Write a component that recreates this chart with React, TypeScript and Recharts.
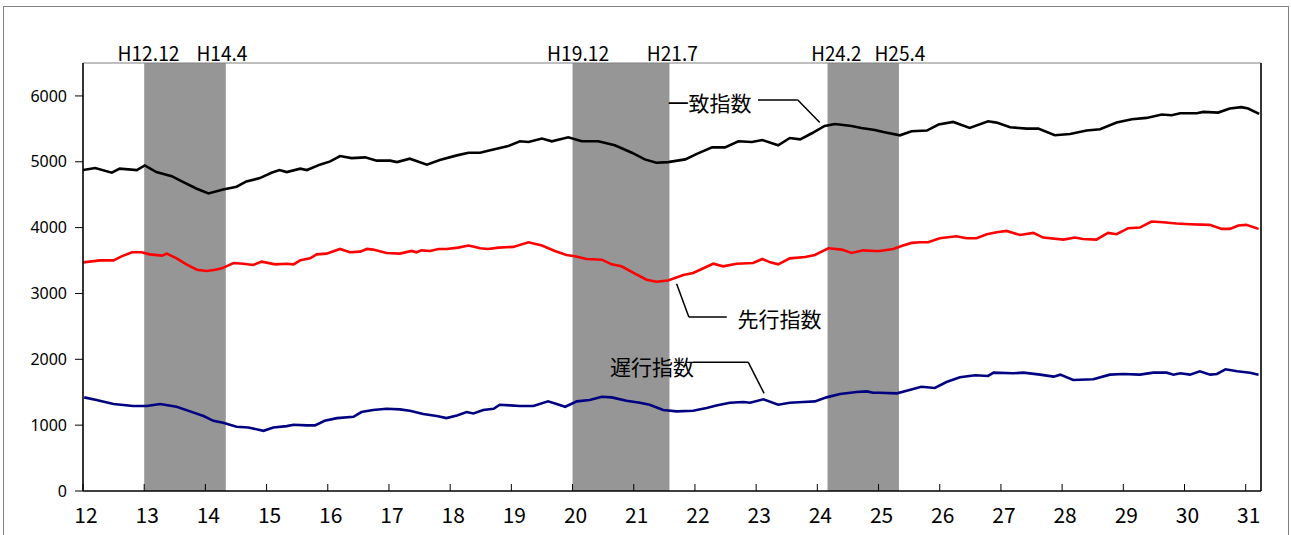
import React from 'react';
import { LineChart, Line, XAxis, YAxis, ReferenceArea, ReferenceLine, ReferenceDot } from 'recharts';

// ---- Data (x = Heisei year + month/12) ----
const coincidentX = [12.0, 12.2, 12.47, 12.6, 12.88, 13.01, 13.2, 13.45, 13.64, 13.86, 14.05, 14.29, 14.51, 14.67, 14.89, 15.08, 15.21, 15.33, 15.55, 15.66, 15.87, 16.04, 16.2, 16.39, 16.61, 16.8, 17.02, 17.13, 17.34, 17.62, 17.83, 18.11, 18.3, 18.49, 18.62, 18.95, 19.14, 19.28, 19.5, 19.66, 19.93, 20.15, 20.42, 20.69, 20.97, 21.18, 21.37, 21.56, 21.84, 22.05, 22.28, 22.49, 22.71, 22.93, 23.1, 23.36, 23.55, 23.72, 23.91, 24.12, 24.29, 24.56, 24.72, 24.94, 25.08, 25.35, 25.54, 25.79, 25.98, 26.22, 26.49, 26.79, 26.93, 27.15, 27.42, 27.61, 27.88, 28.13, 28.4, 28.62, 28.89, 29.14, 29.38, 29.63, 29.79, 29.93, 30.2, 30.31, 30.55, 30.74, 30.93, 31.04, 31.22];
const coincidentV = [4874, 4904, 4834, 4895, 4874, 4945, 4843, 4782, 4691, 4590, 4519, 4580, 4621, 4701, 4752, 4834, 4874, 4843, 4895, 4874, 4956, 5006, 5087, 5056, 5067, 5017, 5017, 4995, 5047, 4956, 5026, 5097, 5138, 5138, 5169, 5239, 5311, 5300, 5352, 5311, 5372, 5311, 5311, 5250, 5138, 5036, 4986, 4995, 5036, 5128, 5219, 5219, 5311, 5300, 5331, 5250, 5361, 5341, 5433, 5544, 5574, 5544, 5513, 5483, 5452, 5402, 5463, 5474, 5565, 5605, 5513, 5615, 5595, 5524, 5504, 5504, 5402, 5422, 5474, 5493, 5595, 5646, 5666, 5717, 5707, 5737, 5737, 5757, 5747, 5808, 5829, 5808, 5727];

const leadingX = [12.0, 12.28, 12.5, 12.63, 12.8, 12.96, 13.09, 13.29, 13.37, 13.53, 13.69, 13.86, 14.02, 14.16, 14.27, 14.46, 14.62, 14.78, 14.92, 15.14, 15.33, 15.44, 15.55, 15.71, 15.82, 15.98, 16.2, 16.36, 16.53, 16.64, 16.74, 16.96, 17.18, 17.37, 17.45, 17.53, 17.67, 17.81, 17.94, 18.13, 18.3, 18.41, 18.49, 18.62, 18.79, 19.03, 19.28, 19.5, 19.71, 19.9, 20.04, 20.23, 20.48, 20.64, 20.8, 21.02, 21.21, 21.37, 21.56, 21.81, 21.97, 22.3, 22.46, 22.68, 22.95, 23.1, 23.23, 23.36, 23.55, 23.8, 23.96, 24.18, 24.4, 24.56, 24.75, 24.94, 25.02, 25.24, 25.4, 25.54, 25.68, 25.81, 26.0, 26.27, 26.44, 26.6, 26.77, 26.93, 27.09, 27.31, 27.53, 27.69, 28.02, 28.21, 28.34, 28.56, 28.75, 28.89, 29.08, 29.27, 29.46, 29.65, 29.87, 30.09, 30.41, 30.61, 30.74, 30.88, 31.01, 31.21];
const leadingV = [3472, 3503, 3503, 3564, 3625, 3625, 3594, 3574, 3605, 3533, 3442, 3361, 3341, 3361, 3381, 3463, 3452, 3432, 3483, 3442, 3452, 3442, 3503, 3533, 3594, 3605, 3676, 3625, 3635, 3676, 3666, 3615, 3605, 3646, 3625, 3655, 3646, 3676, 3676, 3696, 3727, 3707, 3686, 3676, 3696, 3707, 3777, 3727, 3646, 3585, 3564, 3524, 3513, 3442, 3412, 3300, 3209, 3178, 3198, 3280, 3311, 3452, 3412, 3452, 3463, 3524, 3472, 3442, 3533, 3554, 3585, 3686, 3666, 3615, 3655, 3646, 3646, 3676, 3727, 3768, 3777, 3777, 3838, 3869, 3838, 3838, 3899, 3930, 3950, 3889, 3920, 3849, 3818, 3849, 3828, 3818, 3920, 3899, 3991, 4001, 4093, 4082, 4062, 4052, 4042, 3981, 3981, 4032, 4042, 3981];

const laggingX = [12.02, 12.22, 12.5, 12.82, 13.04, 13.26, 13.53, 13.75, 13.97, 14.13, 14.29, 14.51, 14.7, 14.95, 15.11, 15.33, 15.44, 15.66, 15.79, 15.95, 16.15, 16.42, 16.55, 16.74, 16.96, 17.18, 17.34, 17.56, 17.78, 17.94, 18.11, 18.27, 18.38, 18.54, 18.71, 18.81, 18.98, 19.14, 19.36, 19.6, 19.74, 19.88, 20.07, 20.28, 20.48, 20.64, 20.88, 21.1, 21.26, 21.48, 21.7, 21.97, 22.19, 22.35, 22.57, 22.79, 22.9, 23.12, 23.36, 23.55, 23.77, 23.96, 24.15, 24.37, 24.64, 24.81, 24.91, 25.02, 25.3, 25.46, 25.7, 25.92, 26.11, 26.33, 26.58, 26.79, 26.88, 27.2, 27.37, 27.64, 27.86, 27.97, 28.18, 28.51, 28.78, 29.0, 29.27, 29.49, 29.71, 29.82, 29.93, 30.09, 30.25, 30.42, 30.53, 30.67, 30.86, 31.07, 31.21];
const laggingV = [1422, 1381, 1320, 1290, 1290, 1320, 1279, 1209, 1138, 1066, 1036, 975, 965, 914, 965, 985, 1005, 996, 996, 1066, 1107, 1127, 1199, 1229, 1249, 1240, 1218, 1168, 1138, 1107, 1148, 1199, 1178, 1229, 1249, 1310, 1300, 1290, 1290, 1361, 1320, 1279, 1361, 1381, 1432, 1422, 1371, 1340, 1310, 1229, 1209, 1218, 1260, 1300, 1340, 1351, 1340, 1392, 1310, 1340, 1351, 1361, 1422, 1473, 1503, 1513, 1493, 1493, 1483, 1523, 1584, 1564, 1655, 1727, 1757, 1747, 1797, 1788, 1797, 1767, 1737, 1767, 1686, 1696, 1767, 1777, 1767, 1797, 1797, 1767, 1788, 1767, 1818, 1767, 1777, 1849, 1818, 1797, 1767];

const xTicks = [12, 13, 14, 15, 16, 17, 18, 19, 20, 21, 22, 23, 24, 25, 26, 27, 28, 29, 30, 31];
const yTicks = [0, 1000, 2000, 3000, 4000, 5000, 6000];

// Recession bands (peak -> trough)
const bandStart = [13.0, 20.0, 24.1667];
const bandEnd = [14.3333, 21.5833, 25.3333];
const bandLabels = ['H12.12', 'H14.4', 'H19.12', 'H21.7', 'H24.2', 'H25.4'];
const bandLabelX = [13.07, 14.27, 20.09, 21.63, 24.31, 25.35];
const bandLabelWidth = [62, 51, 62, 51, 50, 51];

// Series annotations
const seriesNames = ['一致指数', '先行指数', '遅行指数'];
const seriesColors = ['#000000', '#ff0000', '#000080'];
const annotX = [22.24, 23.38, 21.3];
const annotY = [5912, 2630, 1899];
const leaderPaths = [
  [[23.03, 5937], [23.68, 5937], [24.04, 5595]],
  [[22.52, 2641], [21.9, 2641], [21.7, 3148]],
  [[21.97, 1956], [22.87, 1956], [23.13, 1483]],
];

const toPoints = (xs: number[], vs: number[]) => xs.map((x, i) => ({ x, v: vs[i] }));
const seriesData = [
  toPoints(coincidentX, coincidentV),
  toPoints(leadingX, leadingV),
  toPoints(laggingX, laggingV),
];

const JP = '"Noto Sans CJK JP", "Noto Sans", sans-serif';

const XTick = (props: any) => {
  const { x, y, payload } = props;
  return (
    <g>
      <line x1={x} x2={x} y1={y} y2={y - 7} stroke="#000" strokeWidth={1} />
      <text x={x + 3} y={y + 32} textAnchor="middle" fontSize={21} fontFamily={JP} fill="#000">
        {payload.value}
      </text>
    </g>
  );
};

export default function App() {
  return (
    <div style={{ position: 'absolute', left: 0, top: 0, width: 1291, height: 535, overflow: 'hidden', background: '#fff' }}>
      <div style={{ position: 'absolute', left: 3, top: 6, width: 1284, height: 600, border: '1px solid #808080' }} />
      <div style={{ position: 'absolute', left: 0, top: 0 }}>
        <LineChart width={1291} height={535} margin={{ top: 63, right: 30, bottom: 4, left: 0 }}>
          <XAxis
            type="number"
            dataKey="x"
            domain={[12, 31.25]}
            ticks={xTicks}
            interval={0}
            allowDataOverflow
            height={40}
            tickLine={false}
            tickSize={0}
            tickMargin={0}
            axisLine={{ stroke: '#000', strokeWidth: 1.6 }}
            tick={<XTick />}
          />
          <YAxis
            type="number"
            domain={[0, 6500]}
            ticks={yTicks}
            interval={0}
            allowDataOverflow
            width={83}
            tickSize={8}
            tickMargin={8}
            tickLine={{ stroke: '#000', strokeWidth: 1 }}
            axisLine={{ stroke: '#000', strokeWidth: 1.6 }}
            tick={{ fontSize: 16, fill: '#000', fontFamily: '"Noto Sans", sans-serif' }}
          />
          {bandStart.map((s, i) => (
            <ReferenceArea key={'band' + i} x1={s} x2={bandEnd[i]} y1={0} y2={6500} fill="#969696" fillOpacity={1} stroke="none" />
          ))}
          <ReferenceLine y={6500} stroke="#808080" strokeWidth={1.2} />
          <ReferenceLine x={31.25} stroke="#000" strokeWidth={1.6} />
          {seriesData.map((d, i) => (
            <Line
              key={'s' + i}
              data={d}
              dataKey="v"
              type="linear"
              stroke={seriesColors[i]}
              strokeWidth={2.6}
              dot={false}
              activeDot={false}
              isAnimationActive={false}
            />
          ))}
          {leaderPaths.flatMap((path, i) =>
            path.slice(1).map((p, j) => (
              <ReferenceLine
                key={'lead' + i + '-' + j}
                segment={[{ x: path[j][0], y: path[j][1] }, { x: p[0], y: p[1] }]}
                stroke="#000"
                strokeWidth={1.5}
              />
            ))
          )}
          {seriesNames.map((name, i) => (
            <ReferenceDot
              key={'ann' + i}
              x={annotX[i]}
              y={annotY[i]}
              r={0}
              ifOverflow="visible"
              shape={(p: any) => (
                <text x={p.cx} y={p.cy} textAnchor="middle" dominantBaseline="central" fontSize={21} fontFamily={JP} fill="#000">
                  {name}
                </text>
              )}
            />
          ))}
          {bandLabels.map((lab, i) => (
            <ReferenceDot
              key={'bl' + i}
              x={bandLabelX[i]}
              y={6500}
              r={0}
              ifOverflow="visible"
              shape={(p: any) => (
                <text
                  x={p.cx}
                  y={p.cy - 2}
                  textAnchor="middle"
                  fontSize={20}
                  fontFamily={JP}
                  fill="#000"
                  textLength={bandLabelWidth[i]}
                  lengthAdjust="spacingAndGlyphs"
                >
                  {lab}
                </text>
              )}
            />
          ))}
        </LineChart>
      </div>
    </div>
  );
}
